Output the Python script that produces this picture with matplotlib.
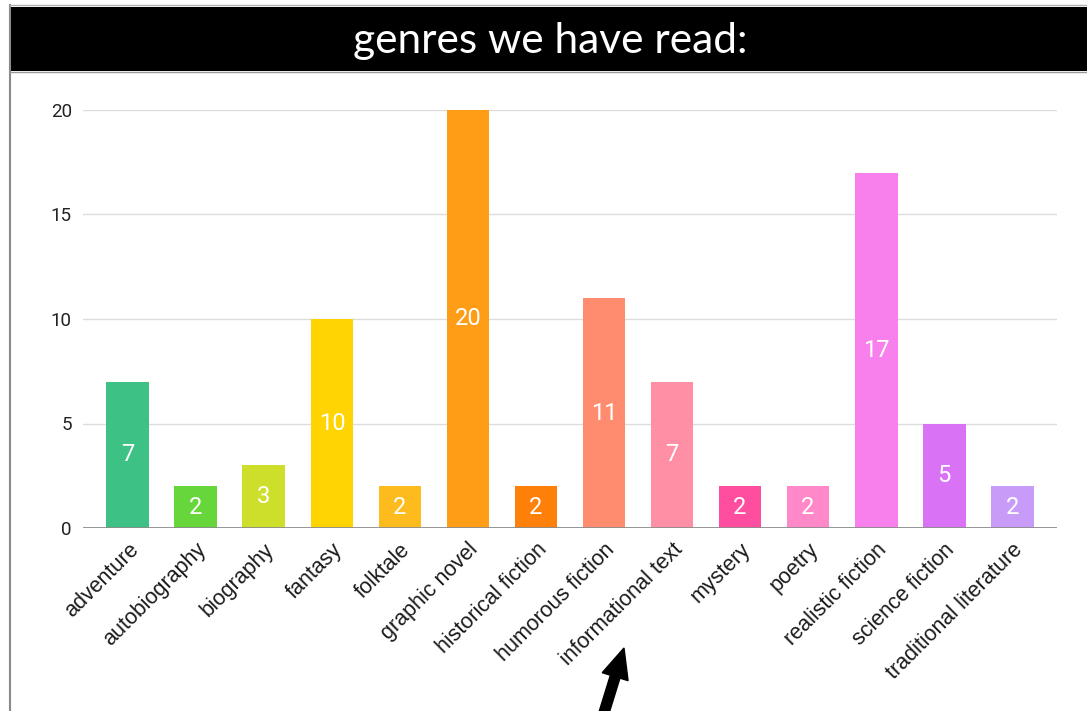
import matplotlib
matplotlib.use("Agg")
import matplotlib.pyplot as plt
from matplotlib.patches import FancyArrow, Rectangle
from matplotlib.lines import Line2D
from matplotlib.transforms import IdentityTransform

genres = ["adventure", "autobiography", "biography", "fantasy", "folktale",
          "graphic novel", "historical fiction", "humorous fiction",
          "informational text", "mystery", "poetry", "realistic fiction",
          "science fiction", "traditional literature"]
counts = [7, 2, 3, 10, 2, 20, 2, 11, 7, 2, 2, 17, 5, 2]
colors = ["#3DC185", "#66D63A", "#CDDF2A", "#FFD400", "#FDBB1E", "#FF9E16",
          "#FD800A", "#FF8C6E", "#FF8FA5", "#FF4DA0", "#FF88C9", "#F880EC",
          "#DA72F6", "#C99BF9"]
yticks = [0, 5, 10, 15, 20]
title = "genres we have read:"

W, H = 1087, 711
fig = plt.figure(figsize=(W / 100, H / 100), dpi=100)
fig.patch.set_facecolor("white")

# frame lines and title bar
fig.add_artist(Line2D([10 / W, 10 / W], [0, 1 - 5 / H], transform=fig.transFigure,
                      color="#8a8a8a", lw=1.5))
fig.add_artist(Line2D([10 / W, 1], [1 - 5 / H, 1 - 5 / H], transform=fig.transFigure,
                      color="#b0b0b0", lw=1.0))
fig.add_artist(Rectangle((10 / W, 1 - 71 / H), 1 - 10 / W, 64 / H,
                         transform=fig.transFigure, facecolor="black", edgecolor="none"))
fig.add_artist(Line2D([10 / W, 1], [1 - 71.5 / H, 1 - 71.5 / H], transform=fig.transFigure,
                      color="#9a9a9a", lw=1.0))
fig.text(550 / W, 1 - 41 / H, title, color="white", fontsize=30.5,
         family=["Lato", "DejaVu Sans"], fontweight="normal",
         ha="center", va="center")

ax = fig.add_axes([83 / W, (H - 528) / H, (1057 - 83) / W, (528 - 110) / H])
x = list(range(len(genres)))
bars = ax.bar(x, counts, width=0.63, color=colors, zorder=3)
ax.set_xlim(-0.66, 13.66)
ax.set_ylim(0, 20)
ax.set_yticks(yticks)
ax.set_yticklabels([str(v) for v in yticks], fontsize=13.5,
                   family=["Roboto", "DejaVu Sans"], color="#222222")
ax.grid(axis="y", color="#dcdcdc", lw=1.0, zorder=0)
ax.axhline(0, color="#8c8c8c", lw=2.0, zorder=4)
for s in ax.spines.values():
    s.set_visible(False)
ax.tick_params(axis="both", length=0)
ax.tick_params(axis="y", pad=8)
ax.set_xticks(x)
ax.set_xticklabels(genres, rotation=45, ha="right", rotation_mode="anchor",
                   fontsize=15.5, family=["Liberation Sans", "DejaVu Sans"], color="#1a1a1a")
ax.tick_params(axis="x", pad=8)
for xi, v in zip(x, counts):
    ax.text(xi, v / 2, str(v), ha="center", va="center", color="white",
            fontsize=17, family=["Roboto", "DejaVu Sans"], zorder=5)

# arrow pointing up at "informational text"
fig.add_artist(FancyArrow(603, -5, 21, 68, width=10, head_width=27, head_length=30,
                          length_includes_head=True, color="black",
                          transform=IdentityTransform()))

fig.savefig("out.png", dpi=100, facecolor="white")
